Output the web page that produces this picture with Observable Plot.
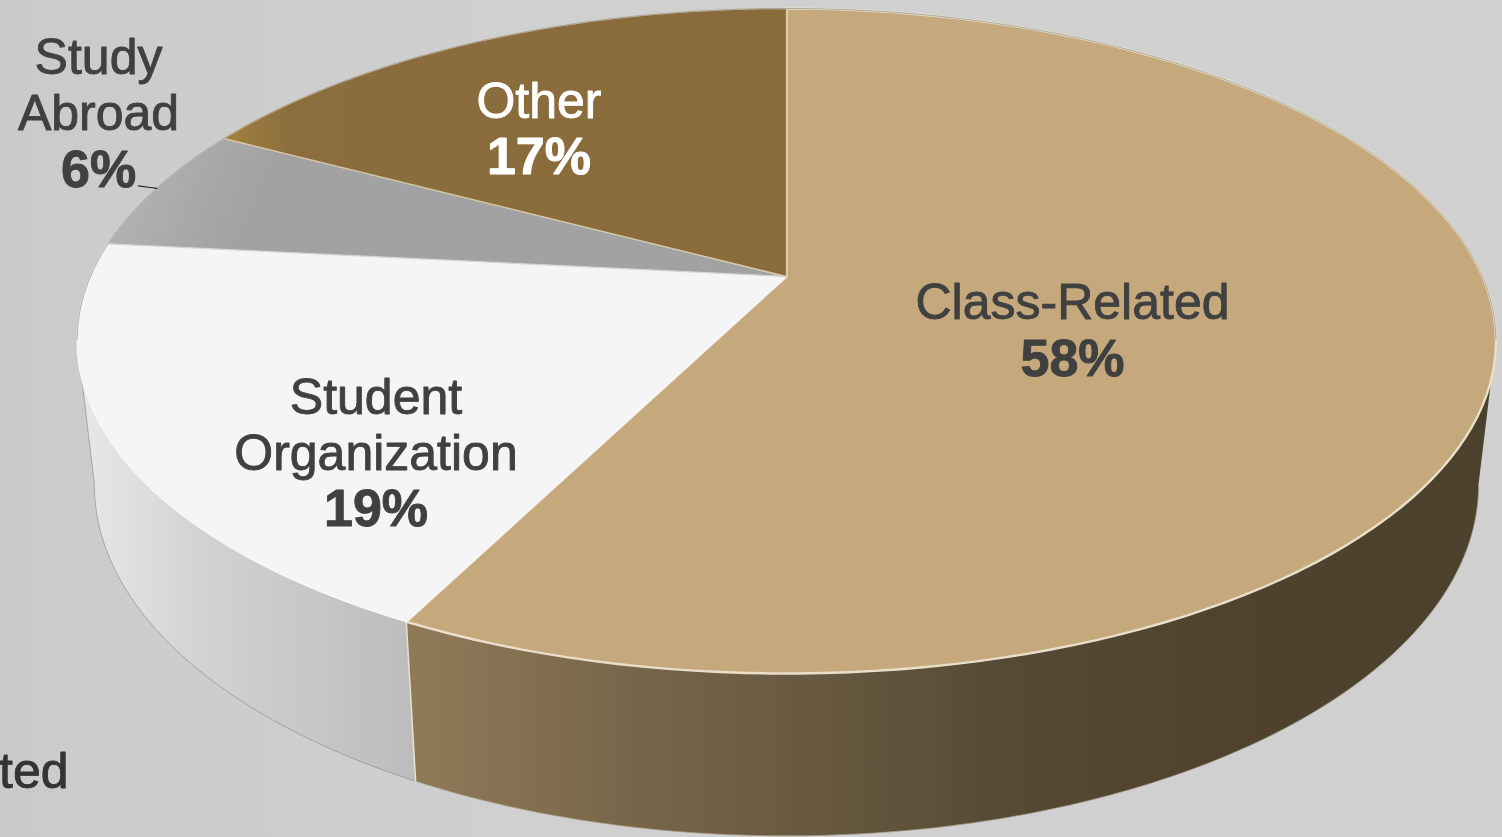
<!DOCTYPE html>
<html>
<head>
<meta charset="utf-8">
<script src="https://cdn.jsdelivr.net/npm/d3@7"></script>
<script src="https://cdn.jsdelivr.net/npm/@observablehq/plot@0.6"></script>
<style>
html,body{margin:0;padding:0;background:#cfcfcf;overflow:hidden}
svg{display:block;background:linear-gradient(90deg,#cacaca 0%,#cdcdcd 12%,#d0d0d0 40%,#d0d0d0 100%)}
</style>
</head>
<body>
<div id="chart"></div>
<script>
// ---- Data ----
const categories = ["Class-Related", "Student Organization", "Study Abroad", "Other"];
const shares = [57.46, 19.2, 6.14, 17.2];            // measured slice sizes, clockwise from 12 o'clock
const shareLabels = ["58%", "19%", "6%", "17%"];
const nameLines = [["Class-Related"], ["Student", "Organization"], ["Study", "Abroad"], ["Other"]];
const clippedLabel = ["ted"];

// ---- Styling and the 3-D view ----
const W = 1502, H = 837;
const view = {cx: 786, k: 0.194, top: {cy: 276, a: 696, b: 320}, bottom: {cy: 416, a: 679, b: 338}};
const topFill = ["#c5a97c", "#f5f5f5", "url(#studyTop)", "url(#otherTop)"];
const topStroke = ["#eadfca", "#f7f7f7", "#d9d5cc", "#d8c8a4"];
const topStrokeWidth = [2.4, 1.3, 1.3, 1.3];
const textFill = ["#404040", "#404040", "#404040", "#ffffff"];
// label anchor on the disc: share position around the circle, radius fraction
const labelTurn = [31.3, 63, 82.55, 89.5];
const labelRadius = [0.431, 0.7306, 1.2325, 0.637];
const lineGap = 56, nameSize = 50, shareSize = 52;

// perspective projection of a point on the unit disc
function project(turnPct, r, level = "top") {
  const t = turnPct / 100 * 2 * Math.PI;
  const u = r * Math.sin(t), v = -r * Math.cos(t), w = 1 - view.k * v;
  const f = view[level];
  return {x: view.cx + f.a * u / w, y: f.cy + f.b * v / w};
}
const arcPts = (a, b, level) => d3.range(0, 121).map(i => project(a + (b - a) * i / 120, 1, level));

// cumulative slice bounds
let acc = 0;
const slices = shares.map((v, i) => {const s = {i, from: acc, to: acc + v}; acc += v; return s;});

const slicePath = s => {
  const c = project(0, 0);
  return [c, ...arcPts(s.from, s.to, "top"), c];
};
const sidePath = (a, b) => [...arcPts(a, b, "top"), ...arcPts(a, b, "bottom").reverse()];

// silhouette turns of the side wall
const wallStart = 101 / 360 * 100, wallEnd = 259 / 360 * 100;
const boundary = slices[0].to;

const labelRows = slices.flatMap(s => {
  const p = project(labelTurn[s.i], labelRadius[s.i]);
  const lines = [...nameLines[s.i], shareLabels[s.i]];
  const n = lines.length;
  return lines.map((text, j) => ({
    text, bold: j === n - 1, fill: textFill[s.i],
    x: p.x, y: p.y + (j - (n - 1) / 2) * lineGap
  }));
});

const leader = [project(79.7, 1.03), project(79.7, 1.01), project(79.7, 0.999)];

const stops = (id, x1, y1, x2, y2, list) => () => {
  const svgNS = "http://www.w3.org/2000/svg";
  const g = document.createElementNS(svgNS, "linearGradient");
  g.setAttribute("id", id);
  g.setAttribute("gradientUnits", "userSpaceOnUse");
  for (const [k, v] of Object.entries({x1, y1, x2, y2})) g.setAttribute(k, v);
  for (const [o, c] of list) {
    const st = document.createElementNS(svgNS, "stop");
    st.setAttribute("offset", o); st.setAttribute("stop-color", c);
    g.appendChild(st);
  }
  const d = document.createElementNS(svgNS, "defs");
  d.appendChild(g);
  return d;
};

const fontFamily = "'Liberation Sans', Arial, sans-serif";
const chart = Plot.plot({
  width: W, height: H, margin: 0,
  style: {fontFamily},
  x: {domain: [0, W], range: [0, W], axis: null},
  y: {domain: [0, H], range: [0, H], axis: null},
  marks: [
    stops("classSide", 415, 0, 1480, 0, [[0, "#8f7a58"], [0.2, "#78664a"], [0.35, "#6a5a41"], [0.55, "#574a34"], [0.75, "#4f432e"], [1, "#4c412d"]]),
    stops("studentSide", 90, 0, 415, 0, [[0, "#e6e6e6"], [0.35, "#d2d2d2"], [1, "#bcbcbc"]]),
    stops("studyTop", 130, 130, 500, 290, [[0, "#b4b4b4"], [0.35, "#a2a2a2"], [1, "#a2a2a2"]]),
    stops("otherTop", 230, 130, 600, 130, [[0, "#a0803f"], [0.16, "#8b6e3e"], [1, "#8a6c3c"]]),
    // side wall
    Plot.line(sidePath(boundary, wallEnd), {x: "x", y: "y", fill: "url(#studentSide)", stroke: "#8f8f8f", strokeWidth: 0.7}),
    Plot.line(sidePath(wallStart, boundary), {x: "x", y: "y", fill: "url(#classSide)", stroke: "#a89c88", strokeWidth: 0.7}),
    Plot.line([project(boundary, 1, "top"), project(boundary, 1, "bottom")], {x: "x", y: "y", stroke: "#e8dfcf", strokeWidth: 1.6}),
    // top face
    ...slices.map(s => Plot.line(slicePath(s), {x: "x", y: "y", fill: topFill[s.i], stroke: topStroke[s.i], strokeWidth: topStrokeWidth[s.i]})),
    // rim
    Plot.line(arcPts(wallEnd, 100 + wallStart, "top"), {x: "x", y: "y", stroke: "#9a9a9a", strokeWidth: 0.8}),
    // leader
    Plot.line(leader, {x: "x", y: "y", stroke: "#222", strokeWidth: 1.2}),
    // labels
    Plot.text(labelRows.filter(d => !d.bold), {x: "x", y: "y", text: "text", fill: "fill", stroke: "fill", strokeWidth: 0.9, fontSize: nameSize, fontWeight: 400, lineAnchor: "middle"}),
    Plot.text(labelRows.filter(d => d.bold), {x: "x", y: "y", text: "text", fill: "fill", stroke: "fill", strokeWidth: 0.9, fontSize: shareSize, fontWeight: 700, lineAnchor: "middle"}),
    Plot.text(clippedLabel, {x: () => 68, y: () => 771, text: d => d, fill: "#333333", stroke: "#333333", strokeWidth: 0.9, fontSize: nameSize, textAnchor: "end", lineAnchor: "middle"})
  ]
});
document.getElementById("chart").appendChild(chart);
</script>
</body>
</html>
